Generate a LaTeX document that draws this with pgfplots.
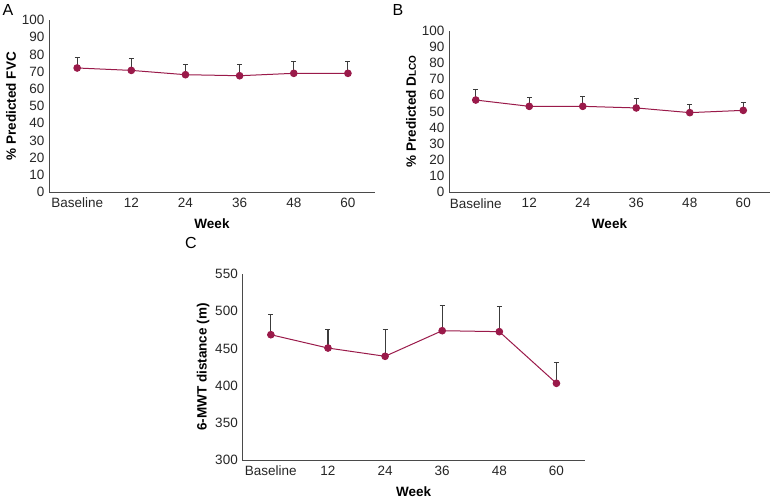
\documentclass[border=0pt]{standalone}
\usepackage{pgfplots}
\pgfplotsset{compat=1.18}
\usepackage{fontspec}
\setmainfont{Liberation Sans}
\definecolor{wine}{HTML}{9A1A4A}
\definecolor{ebar}{HTML}{3C3C3C}
\definecolor{axc}{HTML}{4A4A4A}
\pgfplotsset{
  mystyle/.style={
    scale only axis,
    anchor=south west,
    axis x line*=bottom,
    axis y line*=left,
    axis line style={axc, line width=0.9pt},
    major tick length=0pt,
    xtick={0,1,2,3,4,5},
    xticklabels={Baseline,12,24,36,48,60},
    xmin=-0.52, xmax=5.5,
    /pgf/number format/assume math mode=true,
    tick label style={font=\fontsize{13.5}{15}\selectfont, text=black!85},
    label style={font=\bfseries\fontsize{13.5}{15}\selectfont},
    xlabel={Week},
    xticklabel style={yshift=-2.5pt},
    xlabel style={yshift=-4pt},
    yticklabel style={xshift=-1pt},
    clip=false,
  },
  myplot/.style={
    color=wine, line width=1pt, mark=*, mark size=3.3pt,
    mark options={fill=wine, draw=wine},
    error bars/.cd, y dir=plus, y explicit,
    error bar style={ebar, line width=1.1pt},
    error mark options={ebar, line width=1pt, mark size=2.5pt, rotate=90},
  },
}
\begin{document}
\begin{tikzpicture}[x=1pt,y=1pt]
\path[use as bounding box] (0,0) rectangle (770,499);
% Panel A
\node[font=\fontsize{16}{17}\selectfont, anchor=center] at (8,489) {A};
\begin{axis}[mystyle, at={(49pt,307pt)}, width=326pt, height=172pt,
  ymin=0, ymax=100, ytick={0,10,...,100},
  ylabel={\% Predicted FVC}, ylabel style={yshift=-1pt}]
\addplot[myplot] coordinates {
  (0,72.1) +- (0,6.2)
  (1,70.7) +- (0,7.0)
  (2,68.2) +- (0,6.0)
  (3,67.6) +- (0,6.6)
  (4,69.0) +- (0,6.8)
  (5,69.0) +- (0,7.0)
};
\end{axis}
% Panel B
\node[font=\fontsize{16}{17}\selectfont, anchor=center] at (398,489) {B};
\begin{axis}[mystyle, at={(449pt,306.7pt)}, width=321pt, height=161.6pt,
  xmin=-0.5, xmax=5.5,
  ymin=0, ymax=100, ytick={0,10,...,100},
  ylabel={\% Predicted D{\fontsize{10}{11}\selectfont LCO}}, ylabel style={yshift=-1pt}]
\addplot[myplot] coordinates {
  (0,57.1) +- (0,6.8)
  (1,53.2) +- (0,5.3)
  (2,53.2) +- (0,6.0)
  (3,52.2) +- (0,5.7)
  (4,49.3) +- (0,4.9)
  (5,50.7) +- (0,5.0)
};
\end{axis}
% Panel C
\node[font=\fontsize{16}{17}\selectfont, anchor=center] at (191,256) {C};
\begin{axis}[mystyle, at={(242.3pt,39pt)}, width=342.7pt, height=186pt,
  xmin=-0.5, xmax=5.5,
  ymin=300, ymax=550, ytick={300,350,...,550},
  ylabel={6-MWT distance (m)}, ylabel style={yshift=-1pt}]
\addplot[myplot] coordinates {
  (0,468.4) +- (0,26.9)
  (1,450.5) +- (0,25.2)
  (2,439.4) +- (0,36.3)
  (3,473.8) +- (0,33.6)
  (4,472.5) +- (0,34.1)
  (5,403.1) +- (0,27.7)
};
\end{axis}
\end{tikzpicture}
\end{document}
